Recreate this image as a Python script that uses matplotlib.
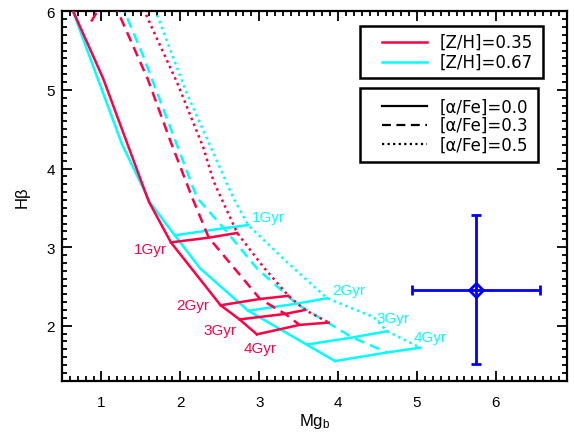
import matplotlib
matplotlib.use('Agg')
import matplotlib.pyplot as plt
from matplotlib.patches import Rectangle
from matplotlib.ticker import MultipleLocator

plt.rcParams['font.family'] = ['Liberation Sans', 'DejaVu Sans']
plt.rcParams['mathtext.fontset'] = 'custom'
plt.rcParams['mathtext.rm'] = 'Liberation Sans'
plt.rcParams['mathtext.it'] = 'Liberation Sans:italic'

# ---------------- data ----------------
ages = ['1Gyr', '2Gyr', '3Gyr', '4Gyr']
zh_labels = ['[Z/H]=0.35', '[Z/H]=0.67']
afe_labels = ['[α/Fe]=0.0', '[α/Fe]=0.3', '[α/Fe]=0.5']

# model tracks (Mgb, Hbeta), young -> old
red_a00_mgb = [0.62, 1.02, 1.60, 1.88, 2.51, 2.75, 2.97]
red_a00_hb = [6.05, 5.15, 3.58, 3.06, 2.26, 2.08, 1.89]
red_a03_mgb = [0.87, 1.02, 1.17, 1.26, 1.59, 1.87, 2.15, 2.36, 3.01, 3.33, 3.51]
red_a03_hb = [5.87, 6.12, 6.08, 5.88, 5.13, 4.36, 3.63, 3.12, 2.34, 2.15, 2.01]
red_a05_mgb = [1.50, 1.96, 2.29, 2.42, 2.72, 3.05, 3.37, 3.58, 3.88]
red_a05_hb = [6.10, 5.09, 4.27, 3.84, 3.18, 2.75, 2.38, 2.20, 2.04]

cyan_a00_mgb = [0.62, 1.26, 1.62, 1.93, 2.25, 2.86, 3.60, 3.96]
cyan_a00_hb = [6.05, 4.31, 3.56, 3.15, 2.73, 2.19, 1.76, 1.55]
cyan_a03_mgb = [1.25, 1.53, 1.87, 2.21, 2.55, 2.97, 3.47, 4.18, 4.62]
cyan_a03_hb = [6.10, 5.43, 4.53, 3.63, 3.24, 2.73, 2.28, 1.85, 1.66]
cyan_a05_mgb = [1.65, 2.08, 2.67, 2.86, 3.35, 3.86, 4.45, 4.62, 5.04]
cyan_a05_hb = [6.10, 4.96, 3.63, 3.28, 2.81, 2.35, 2.11, 1.93, 1.72]

# age grid points (1,2,3,4 Gyr) for alpha = 0.0, 0.3, 0.5
red_grid_mgb = [[1.88, 2.51, 2.75, 2.97], [2.36, 3.01, 3.33, 3.51], [2.72, 3.37, 3.58, 3.88]]
red_grid_hb = [[3.06, 2.26, 2.08, 1.89], [3.12, 2.34, 2.15, 2.01], [3.18, 2.38, 2.20, 2.04]]
cyan_grid_mgb = [[1.93, 2.86, 3.60, 3.96], [2.55, 3.47, 4.18, 4.62], [2.86, 3.86, 4.62, 5.04]]
cyan_grid_hb = [[3.15, 2.19, 1.76, 1.55], [3.24, 2.28, 1.85, 1.66], [3.28, 2.35, 1.93, 1.72]]

# observed point with error bars
obs_mgb = 5.75
obs_hb = 2.46
obs_mgb_err = 0.81
obs_hb_err = 0.95

# ---------------- style ----------------
RED = '#FF0044'
CYAN = '#00FFFF'
BLUE = '#0000FF'
LW = 1.8
styles = ['-', (0, (4, 2.5)), (0, (1, 1.5))]

fig = plt.figure(figsize=(5.74, 4.35), dpi=100)
ax = fig.add_axes([0.1080, 0.1225, 0.8798, 0.8492])

red_tracks = [(red_a00_mgb, red_a00_hb), (red_a03_mgb, red_a03_hb), (red_a05_mgb, red_a05_hb)]
cyan_tracks = [(cyan_a00_mgb, cyan_a00_hb), (cyan_a03_mgb, cyan_a03_hb), (cyan_a05_mgb, cyan_a05_hb)]

for (x, y), ls in zip(red_tracks, styles):
    ax.plot(x, y, color=RED, lw=LW, linestyle=ls, dash_capstyle='butt', zorder=3)
for (x, y), ls in zip(cyan_tracks, styles):
    ax.plot(x, y, color=CYAN, lw=LW, linestyle=ls, dash_capstyle='butt', zorder=2)

for i in range(len(ages)):
    ax.plot([g[i] for g in red_grid_mgb], [g[i] for g in red_grid_hb], color=RED, lw=LW, zorder=3)
    ax.plot([g[i] for g in cyan_grid_mgb], [g[i] for g in cyan_grid_hb], color=CYAN, lw=LW, zorder=2)

# age labels
red_lab_pos = [(1.62, 2.97), (2.16, 2.26), (2.50, 1.95), (3.01, 1.71)]
cyan_lab_pos = [(3.12, 3.38), (4.13, 2.45), (4.70, 2.10), (5.17, 1.86)]
for lab, (x, y) in zip(ages, red_lab_pos):
    ax.text(x, y, lab, color=RED, fontsize=11, ha='center', va='center')
for lab, (x, y) in zip(ages, cyan_lab_pos):
    ax.text(x, y, lab, color=CYAN, fontsize=11, ha='center', va='center')

# observation
ax.errorbar(obs_mgb, obs_hb, xerr=obs_mgb_err, yerr=obs_hb_err, fmt='D', ms=7,
            mfc='none', mec=BLUE, mew=2, color=BLUE, elinewidth=2,
            capsize=3.5, capthick=2, zorder=4)

# axes
ax.set_xlim(0.5, 6.9)
ax.set_ylim(1.3, 6.0)
ax.xaxis.set_major_locator(MultipleLocator(1))
ax.xaxis.set_minor_locator(MultipleLocator(0.1))
ax.yaxis.set_major_locator(MultipleLocator(1))
ax.yaxis.set_minor_locator(MultipleLocator(0.1))
ax.tick_params(which='both', direction='in', top=True, right=True, labelsize=11, width=1.3)
ax.tick_params(which='major', length=7)
ax.tick_params(which='minor', length=3.5)
ax.tick_params(axis='x', pad=10)
ax.tick_params(axis='y', pad=5)
for s in ax.spines.values():
    s.set_linewidth(1.6)
ax.set_xlabel('Mg$_\\mathrm{b}$', fontsize=12, labelpad=2)
ax.set_ylabel('Hβ', fontsize=12, labelpad=12)

# legends (drawn in axes coordinates)
LEG_FONT = ['DejaVu Sans']

def legend_box(x0, y0, x1, y1):
    ax.add_patch(Rectangle((x0, y0), x1 - x0, y1 - y0, transform=ax.transAxes,
                           fill=True, facecolor='white', edgecolor='black', lw=1.8, zorder=5))

legend_box(0.590, 0.819, 0.953, 0.959)
zh_rows = [0.918, 0.864]
for lab, col, yy in zip(zh_labels, [RED, CYAN], zh_rows):
    ax.plot([0.633, 0.722], [yy, yy], transform=ax.transAxes, color=col, lw=LW, zorder=6)
    ax.text(0.748, yy, lab, transform=ax.transAxes, fontsize=12, family=LEG_FONT,
            va='center', ha='left', zorder=6)

legend_box(0.590, 0.591, 0.943, 0.792)
afe_rows = [0.743, 0.693, 0.640]
for lab, ls, yy in zip(afe_labels, styles, afe_rows):
    ax.plot([0.633, 0.722], [yy, yy], transform=ax.transAxes, color='black', lw=1.6,
            linestyle=ls, dash_capstyle='butt', zorder=6)
    ax.text(0.748, yy, lab, transform=ax.transAxes, fontsize=12, family=LEG_FONT,
            va='center', ha='left', zorder=6)

fig.savefig('out.png', dpi=100)
